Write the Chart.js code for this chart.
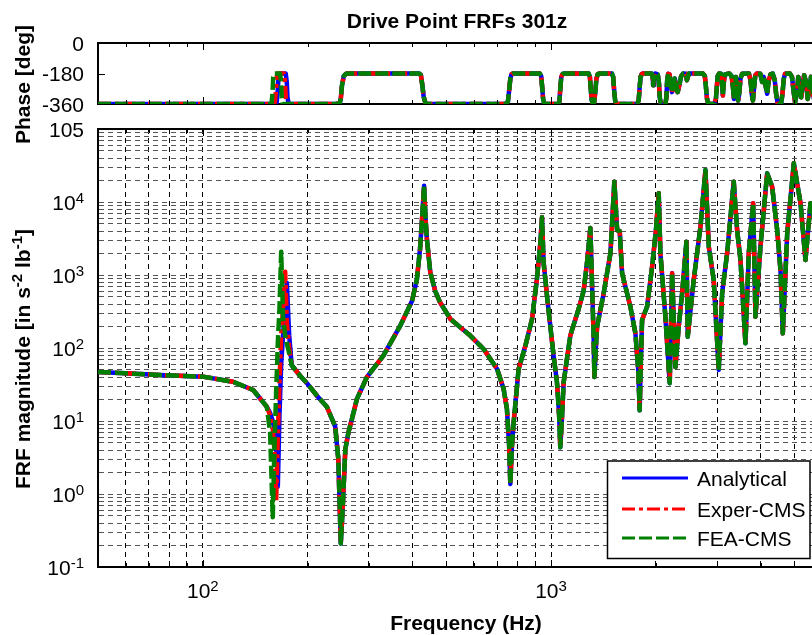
<!DOCTYPE html>
<html><head><meta charset="utf-8">
<script src="https://cdn.jsdelivr.net/npm/chart.js@4.4.0/dist/chart.umd.min.js"></script>
<style>
html,body{margin:0;padding:0;background:#fff;overflow:hidden;width:812px;height:635px;}
#wrap{position:relative;width:812px;height:635px;overflow:hidden;background:#fff;}
canvas{position:absolute;left:0;top:0;}
</style></head><body>
<div id="wrap">
<canvas id="mag" width="900" height="635"></canvas>
<canvas id="phase" width="900" height="112"></canvas>
</div>
<script>
// ================= DATA =================
const seriesNames  = ['Analytical', 'Exper-CMS', 'FEA-CMS'];
const seriesColors = ['#0000ff', '#ff0000', '#008000'];

// FRF magnitude, low-frequency part (first anti-resonance / resonance differs per series) [Hz, in s^-2 lb^-1]
const magHeadAnalytical = [[50,47],[60,45],[75,42.6],[100,40.5],[122,34.5],[139.5,26.6],[152.6,15.7],[156,12.9],[158.8,10],[160.5,8],[162.4,5],[164.2,1.26],[166,12],[167.9,60],[170,150],[172.4,400],[174.3,780],[177,150]];
const magHeadExper      = [[50,47],[60,45],[75,42.6],[100,40.5],[122,34.5],[139.5,26.6],[152.6,15.7],[156,12],[158.8,8],[160.5,4],[162.4,0.8],[164.2,6],[166,35],[167.9,150],[170,350],[172.4,1110],[174.3,220],[177,100]];
const magHeadFEA        = [[50,47],[60,45],[75,42.6],[100,40.5],[122,34.5],[139.5,26.6],[152.6,15.7],[156,7],[158.8,0.48],[160.5,4],[162.4,25],[164.2,120],[166,350],[167.9,2090],[170,260],[172.4,150],[174.3,115],[177,85]];
// FRF magnitude, common part
const magTail = [[180,58],[190,42],[199,33],[213,22],[227,15.7],[240,8.4],[245,3],[249,0.21],[252,0.6],[256.6,4.1],[262,7],[268,10.6],[277,20],[296,40],[330,78.5],[369,202],[399,445],[412,881],[420.5,2270],[425.6,5320],[432,16700],[436,6000],[440,3110],[450,1090],[465,600],[480,423],[514,250],[550,190],[586,148],[640,97],[700,51.5],[731,27.4],[747,14.6],[758,4.6],[764,1.37],[772,4.5],[781,9.6],[807,51.5],[844,107],[882,250],[911,880],[932,2800],[942,6160],[952,1490],[978,423],[1017,78.5],[1040,34],[1055,12],[1063,4.36],[1075,11],[1087,34],[1136,148],[1200,342],[1240,600],[1269,1490],[1297,4400],[1312,690],[1325,150],[1332,40],[1345,100],[1356,195],[1416,561],[1481,1980],[1520,18970],[1548,4130],[1575,4000],[1600,1055],[1690,368],[1747,159],[1780,50],[1797,14],[1810,60],[1826,242],[1887,368],[1951,1300],[2000,4000],[2038,13200],[2061,1980],[2130,269],[2192,33],[2227,1055],[2276,55],[2326,195],[2379,561],[2448,2860],[2469,143],[2569,855],[2686,4590],[2776,27400],[2838,2440],[2932,855],[3031,50],[3100,561],[3204,1980],[3347,18970],[3423,4130],[3500,1600],[3617,116],[3697,1980],[3806,9600],[3864,269],[3994,2440],[4175,24700],[4315,16200],[4461,4130],[4560,1170],[4630,159],[4767,3720],[4980,33900],[5206,9600],[5379,1600],[5560,9600],[5800,4000],[6000,8000]];

// Phase [deg], low-frequency part per series
const phaseHeadAnalytical = [[50,-360],[161,-360],[163,-350],[164,-290],[165,-200],[166.5,-180],[173,-180],[174.2,-230],[175,-320],[176.5,-360]];
const phaseHeadExper      = [[50,-360],[159,-360],[161,-350],[162,-290],[163,-200],[164.5,-180],[171,-180],[172.2,-230],[173,-320],[174.5,-360]];
const phaseHeadFEA        = [[50,-360],[155,-360],[157.5,-355],[158.5,-300],[159.3,-200],[160.5,-180],[166.5,-180],[167.7,-220],[168.5,-320],[169.5,-360]];
// Phase, common part
const phaseTail = [[240,-360],[247,-357],[249,-330],[251,-250],[254,-195],[258,-181],[262,-180],[418,-180],[423,-190],[427,-250],[431,-320],[436,-355],[442,-360],
[742,-360],[752,-345],[758,-280],[764,-210],[770,-185],[778,-180],[928,-180],[937,-195],[943,-260],[949,-330],[956,-357],[965,-360],
[1048,-360],[1057,-345],[1063,-270],[1070,-200],[1080,-183],[1092,-180],[1282,-180],[1293,-200],[1300,-270],[1308,-335],[1318,-358],[1330,-350],[1340,-290],[1350,-210],[1362,-183],[1375,-180],[1495,-180],[1508,-200],[1518,-280],[1528,-340],[1540,-358],[1555,-360],
[1765,-360],[1785,-340],[1797,-260],[1808,-200],[1822,-182],[1840,-180],[1945,-180],[1958,-200],[1965,-250],[1975,-200],[1990,-180],[2025,-185],[2040,-230],[2052,-320],[2065,-355],[2080,-360],[2130,-360],[2145,-320],[2155,-220],[2170,-182],[2190,-185],[2205,-240],[2225,-290],[2245,-260],[2265,-210],[2285,-240],[2310,-290],[2335,-250],[2365,-195],[2395,-180],[2440,-182],[2455,-220],[2470,-200],[2490,-180],
[2730,-180],[2765,-195],[2785,-260],[2805,-330],[2830,-358],[2860,-360],[2940,-360],[2975,-330],[2995,-250],[3010,-195],[3040,-180],[3080,-182],[3100,-250],[3115,-310],[3135,-230],[3160,-185],[3250,-180],[3300,-195],[3330,-260],[3350,-330],[3375,-280],[3395,-200],[3420,-260],[3445,-340],[3470,-300],[3500,-210],[3540,-182],[3700,-180],[3740,-220],[3770,-300],[3800,-340],[3830,-260],[3860,-190],[3900,-180],[3990,-182],[4040,-230],[4080,-200],[4130,-250],[4175,-300],[4220,-220],[4270,-185],[4330,-180],[4390,-220],[4430,-300],[4470,-350],[4520,-360],[4580,-355],[4620,-300],[4660,-210],[4700,-182],[4850,-180],[4920,-200],[4970,-280],[5020,-350],[5080,-300],[5130,-200],[5180,-240],[5230,-320],[5280,-250],[5330,-190],[5400,-230],[5460,-330],[5520,-270],[5580,-200],[5650,-300],[5720,-350],[5800,-260],[5880,-200],[6000,-300]];

// Axes / ticks
const xMin = 50, xMax = 6000;
const magMin = 0.1, magMax = 100000;
const phaseMin = -360, phaseMax = 0;
const xGridValues = [50,60,70,80,90,100,200,300,400,500,600,700,800,900,1000,2000,3000,4000,5000,6000];
const magGridValues = [0.1,0.2,0.3,0.4,0.5,0.6,0.7,0.8,0.9,1,2,3,4,5,6,7,8,9,10,20,30,40,50,60,70,80,90,100,200,300,400,500,600,700,800,900,1000,2000,3000,4000,5000,6000,7000,8000,9000,10000,20000,30000,40000,50000,60000,70000,80000,90000,100000];
const xTickValues = [100, 1000];
const xTickExps = ['2', '3'];
const magTickValues = [0.1, 1, 10, 100, 1000, 10000, 100000];
const magTickBases = ['10','10','10','10','10','10','105'];
const magTickExps  = ['-1','0','1','2','3','4',''];
const phaseTickValues = [0, -180, -360];
const phaseTickLabels = ['0', '-180', '-360'];

const titleText = 'Drive Point FRFs 301z';
const xLabelText = 'Frequency (Hz)';
const phaseLabelText = 'Phase [deg]';

// ================= STYLE =================
const FONT = '"Liberation Sans", Arial, Helvetica, sans-serif';
const dashes = [[], [13,4,4,4], [13,4]];
const LW = 4.5;
const toXY = arr => arr.map(p => ({x: p[0], y: p[1]}));

function makeDatasets(heads, tail) {
  return heads.map((h, i) => ({
    label: seriesNames[i],
    data: toXY(h.concat(tail)),
    borderColor: seriesColors[i],
    backgroundColor: seriesColors[i],
    borderWidth: LW,
    borderDash: dashes[i],
    borderJoinStyle: 'round',
    pointRadius: 0,
    tension: 0,
    fill: false,
    order: 2 - i
  }));
}

function supText(ctx, base, exp, xPos, baseY, align, size, supSize, weight) {
  weight = weight || '';
  ctx.font = `${weight} ${size}px ${FONT}`; const wb = ctx.measureText(base).width;
  ctx.font = `${weight} ${supSize}px ${FONT}`; const we = exp ? ctx.measureText(exp).width : 0;
  const total = wb + we;
  const sx = align === 'center' ? xPos - total / 2 : xPos - total;
  ctx.textAlign = 'left'; ctx.textBaseline = 'alphabetic';
  ctx.font = `${weight} ${size}px ${FONT}`; ctx.fillText(base, sx, baseY);
  if (exp) { ctx.font = `${weight} ${supSize}px ${FONT}`; ctx.fillText(exp, sx + wb, baseY - 7); }
}

function innerTicks(ctx, a, xs) {
  ctx.strokeStyle = '#000'; ctx.lineWidth = 1; ctx.setLineDash([]);
  xGridValues.forEach(v => {
    const px = Math.round(xs.getPixelForValue(v)) + 0.5;
    if (px <= a.left + 1) return;
    const L = xTickValues.includes(v) ? 7 : 4;
    ctx.beginPath();
    ctx.moveTo(px, a.bottom); ctx.lineTo(px, a.bottom - L);
    ctx.moveTo(px, a.top); ctx.lineTo(px, a.top + L);
    ctx.stroke();
  });
}

const magDecor = {
  id: 'magDecor',
  afterDraw(chart) {
    const {ctx, chartArea: a, scales: {x, y}} = chart;
    ctx.save();
    ctx.setLineDash([]);
    ctx.strokeStyle = '#000'; ctx.lineWidth = 2;
    ctx.beginPath(); ctx.moveTo(a.left - 1, a.top); ctx.lineTo(a.right + 1, a.top); ctx.stroke();
    innerTicks(ctx, a, x);
    ctx.fillStyle = '#000';
    // x tick labels
    xTickValues.forEach((v, i) => supText(ctx, '10', xTickExps[i], x.getPixelForValue(v), 598, 'center', 21, 15));
    // y tick labels
    magTickValues.forEach((v, i) => supText(ctx, magTickBases[i], magTickExps[i], 84, y.getPixelForValue(v) + 7.5, 'right', 21, 15));
    // title
    ctx.font = `bold 21px ${FONT}`; ctx.textAlign = 'center'; ctx.textBaseline = 'alphabetic';
    ctx.fillText(titleText, 457, 28);
    ctx.fillText(xLabelText, 466, 630);
    // phase y label
    ctx.save(); ctx.translate(29.5, 84.5); ctx.rotate(-Math.PI / 2);
    ctx.textAlign = 'center'; ctx.fillText(phaseLabelText, 0, 0); ctx.restore();
    // magnitude y label with superscripts
    const segs = [['FRF magnitude [in s', 0], ['-2', 1], [' lb', 0], ['-1', 1], [']', 0]];
    const widths = segs.map(s => { ctx.font = `bold ${s[1] ? 15 : 21}px ${FONT}`; return ctx.measureText(s[0]).width; });
    const tot = widths.reduce((p, c) => p + c, 0);
    ctx.save(); ctx.translate(29.5, 359); ctx.rotate(-Math.PI / 2);
    ctx.textAlign = 'left';
    let cx = -tot / 2;
    segs.forEach((s, i) => { ctx.font = `bold ${s[1] ? 15 : 21}px ${FONT}`; ctx.fillText(s[0], cx, s[1] ? -8 : 0); cx += widths[i]; });
    ctx.restore();
    // legend
    const L = {l: 607.5, t: 461, r: 810, b: 558.5};
    ctx.fillStyle = '#fff'; ctx.fillRect(L.l, L.t, L.r - L.l, L.b - L.t);
    ctx.strokeStyle = '#000'; ctx.lineWidth = 1.5; ctx.strokeRect(L.l, L.t, L.r - L.l, L.b - L.t);
    const rows = [478, 509, 538];
    seriesNames.forEach((name, i) => {
      const ds = chart.data.datasets.find(d => d.label === name);
      ctx.strokeStyle = ds.borderColor; ctx.lineWidth = 3; ctx.setLineDash(ds.borderDash);
      ctx.beginPath(); ctx.moveTo(622, rows[i]); ctx.lineTo(688, rows[i]); ctx.stroke();
      ctx.setLineDash([]);
      ctx.fillStyle = '#000'; ctx.font = `21px ${FONT}`; ctx.textAlign = 'left';
      ctx.fillText(name, 697, rows[i] + 8);
    });
    ctx.restore();
  }
};

const phaseDecor = {
  id: 'phaseDecor',
  afterDraw(chart) {
    const {ctx, chartArea: a, scales: {x, y}} = chart;
    ctx.save();
    ctx.strokeStyle = '#000'; ctx.lineWidth = 2; ctx.setLineDash([]);
    ctx.beginPath(); ctx.moveTo(a.left - 1, a.top); ctx.lineTo(a.right + 1, a.top); ctx.stroke();
    innerTicks(ctx, a, x);
    ctx.lineWidth = 1;
    const py = Math.round(y.getPixelForValue(-180)) + 0.5;
    ctx.beginPath(); ctx.moveTo(a.left, py); ctx.lineTo(a.left + 7, py); ctx.stroke();
    ctx.fillStyle = '#000'; ctx.font = `21px ${FONT}`; ctx.textAlign = 'right'; ctx.textBaseline = 'alphabetic';
    phaseTickValues.forEach((v, i) => ctx.fillText(phaseTickLabels[i], 84, y.getPixelForValue(v) + 7.5));
    ctx.restore();
  }
};

const setTicks = vals => (scale => { scale.ticks = vals.map(v => ({value: v})); });

new Chart(document.getElementById('mag'), {
  type: 'line',
  data: {datasets: makeDatasets([magHeadAnalytical, magHeadExper, magHeadFEA], magTail)},
  options: {
    responsive: false, animation: false, events: [],
    layout: {padding: {left: 98, right: 78, top: 129, bottom: 68}},
    plugins: {legend: {display: false}, tooltip: {enabled: false}, title: {display: false}},
    scales: {
      x: {type: 'logarithmic', min: xMin, max: xMax, afterBuildTicks: setTicks(xGridValues),
          ticks: {display: false}, grid: {color: '#000', lineWidth: 1, drawTicks: false},
          border: {display: true, color: '#000', width: 2, dash: [5, 4]}},
      y: {type: 'logarithmic', min: magMin, max: magMax, afterBuildTicks: setTicks(magGridValues),
          ticks: {display: false}, grid: {color: '#555', lineWidth: 1, drawTicks: false},
          border: {display: true, color: '#000', width: 2, dash: [5, 4]}}
    }
  },
  plugins: [magDecor]
});

new Chart(document.getElementById('phase'), {
  type: 'line',
  data: {datasets: makeDatasets([phaseHeadAnalytical, phaseHeadExper, phaseHeadFEA], phaseTail)},
  options: {
    responsive: false, animation: false, events: [],
    layout: {padding: {left: 98, right: 78, top: 43, bottom: 8}},
    plugins: {legend: {display: false}, tooltip: {enabled: false}, title: {display: false}},
    scales: {
      x: {type: 'logarithmic', min: xMin, max: xMax, afterBuildTicks: setTicks(xGridValues),
          ticks: {display: false}, grid: {display: false, drawTicks: false},
          border: {display: true, color: '#000', width: 2}},
      y: {type: 'linear', min: phaseMin, max: phaseMax,
          ticks: {display: false}, grid: {display: false, drawTicks: false},
          border: {display: true, color: '#000', width: 2}}
    }
  },
  plugins: [phaseDecor]
});
</script>
</body></html>
